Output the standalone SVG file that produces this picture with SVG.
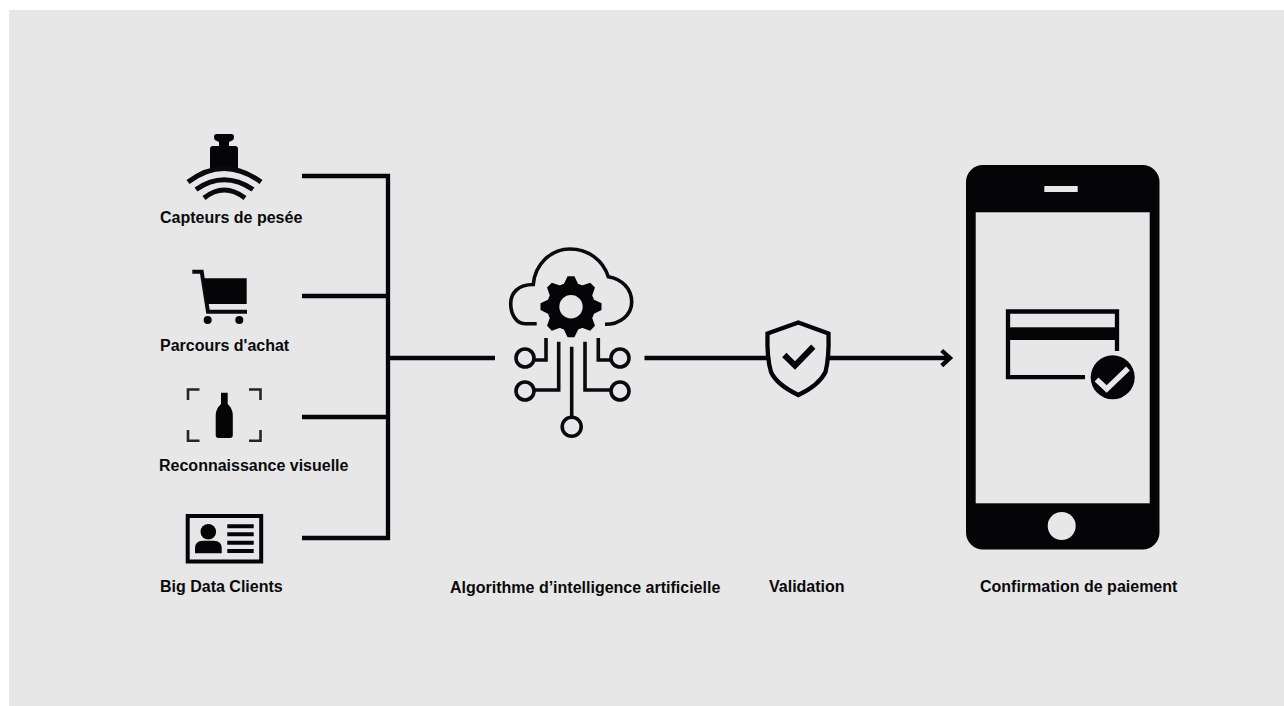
<svg xmlns="http://www.w3.org/2000/svg" width="1284" height="706" viewBox="0 0 1284 706">
<style>
text{font-family:"Liberation Sans",Arial,sans-serif;font-weight:700;font-size:16px;fill:#0a0a0c}
.l{fill:none;stroke:#050508;stroke-width:4.300}
.t{fill:none;stroke:#0a0a0c;stroke-width:3.600}
.f{fill:#050508}
.b{fill:#e7e7e7}
</style>
<defs>
<polygon id="tooth" points="-7.500,-22 -3.400,-30.500 3.400,-30.500 7.500,-22"/>
</defs>
<rect width="1284" height="706" fill="#fff"/>
<rect class="b" x="9" y="10" width="1275" height="696"/>
<g id="connectors">
<path class="l" d="M302 176H388V538H302M302 296H388M302 417H388M388 358H495"/>
<path class="l" d="M644.500 358H768M829 358H949"/>
<path class="l" d="M941.700 350.500L950 358L941.700 365.700"/>
</g>
<g id="capteurs">
<path class="f" d="M216.500 134H231.500Q234 134 234 137Q234 140.500 231 141L229 142V146H235Q238 146 238 149V171H210V149Q210 146 213 146H219V142L217 141Q214 140.500 214 137Q214 134 216.500 134Z"/>
<path class="t" style="stroke-width:5" d="M188 182Q224 155 261 182M196 189.500Q224 170 253 189.500M204 198Q224 182 245 198"/>
<text x="160" y="223">Capteurs de pesée</text>
</g>
<g id="parcours">
<path class="t" style="stroke-width:4" d="M192.300 271.700H201.700L208 311.700H247"/>
<polygon class="f" points="203.500,278.300 246.700,278.300 246.700,304 207.500,304"/>
<circle class="f" cx="207.700" cy="320" r="4"/>
<circle class="f" cx="239.300" cy="320" r="4"/>
<text x="160" y="351">Parcours d'achat</text>
</g>
<g id="reconnaissance">
<path fill="none" stroke="#22262a" stroke-width="2.600" d="M188 400V389.500H199.500M249 389.500H260.500V400M188 430V440.700H199.500M249 440.700H260.500V430"/>
<path class="f" d="M221 392.700H227.700V404Q232.800 409 232.800 415V435Q232.800 438 230 438H218.500Q215.700 438 215.700 435V415Q215.700 409 221 404Z"/>
<text x="159" y="471">Reconnaissance visuelle</text>
</g>
<g id="bigdata">
<rect x="187.700" y="516" width="73.500" height="45.500" fill="none" stroke="#050508" stroke-width="4"/>
<circle class="f" cx="208.300" cy="531.700" r="7.800"/>
<path class="f" d="M195 553.300V548Q195 541 203 540.700H213.700Q221.700 541 221.700 548V553.300Z"/>
<path class="f" d="M227.300 524.300h26.400v4h-26.400zM227.300 532.300h26.400v4h-26.400zM227.300 540.700h26.400v4h-26.400zM227.300 549h26.400v4h-26.400z"/>
<text x="160" y="592">Big Data Clients</text>
</g>
<g id="algorithme">
<path class="t" d="M536.700 323.700H525C516 323.700 510.700 314 510.700 303.500C510.700 293 518 284.500 533.300 284.500C535 264 551 249 570 249C588 249 603 260 608.300 276.700C622 279 631.700 289 631.700 302C631.700 315 620 324.300 605 324.300"/>
<g class="f" transform="translate(571 306.700)">
<circle r="24"/>
<use href="#tooth"/><use href="#tooth" transform="rotate(45)"/><use href="#tooth" transform="rotate(90)"/><use href="#tooth" transform="rotate(135)"/><use href="#tooth" transform="rotate(180)"/><use href="#tooth" transform="rotate(225)"/><use href="#tooth" transform="rotate(270)"/><use href="#tooth" transform="rotate(315)"/>
<circle class="b" r="11.700"/>
</g>
<path class="t" d="M546 338V360H534M558.700 341.700V390H534.500M571.700 346.700V417M585 341.700V390H610M598.300 338V360H611"/>
<circle class="t" cx="525" cy="358" r="9"/>
<circle class="t" cx="525" cy="391" r="9"/>
<circle class="t" cx="571.700" cy="426.700" r="9.500"/>
<circle class="t" cx="620" cy="358" r="9"/>
<circle class="t" cx="620" cy="391" r="9"/>
<text x="450" y="593">Algorithme d’intelligence artificielle</text>
</g>
<g id="validation">
<path class="l" d="M798.300 322.500L767.500 333.500C767 350 768 362 771 372C776 383 788 390 798.300 395C809 390 820 383 825.500 372C828 362 829 350 828.500 333.500Z"/>
<path fill="none" stroke="#050508" stroke-width="6" d="M784.300 355L795 365.500L813.300 346.700"/>
<text x="769" y="592">Validation</text>
</g>
<g id="confirmation">
<rect class="f" x="966" y="165" width="193.500" height="384.500" rx="17"/>
<rect class="b" x="975.700" y="212.300" width="174" height="291"/>
<rect class="b" x="1044.300" y="186" width="33.400" height="6"/>
<circle class="b" cx="1061.700" cy="526" r="14"/>
<path class="l" d="M1085 377.200H1008V311.500H1117V351"/>
<rect class="f" x="1008" y="327.300" width="111" height="12.700"/>
<circle class="f" cx="1112.700" cy="377.300" r="22"/>
<path fill="none" stroke="#e7e7e7" stroke-width="5.500" d="M1096.500 379.500L1106.700 389L1128 368.500"/>
<text x="980" y="592">Confirmation de paiement</text>
</g>
</svg>
